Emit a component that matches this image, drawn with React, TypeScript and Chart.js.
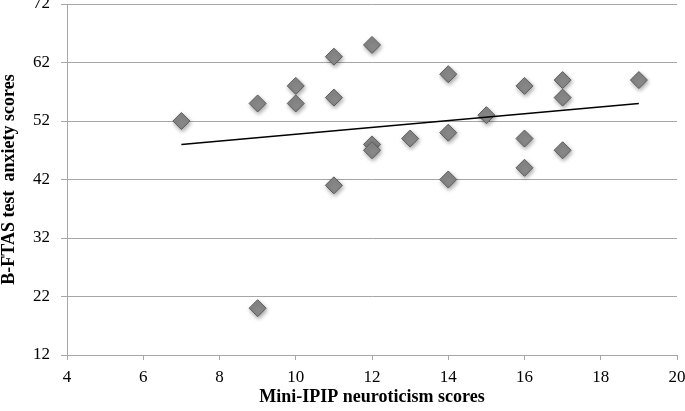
import React, { useEffect, useRef } from "react";
import { Chart, registerables } from "chart.js";

Chart.register(...registerables);

const neuroticism = [7, 9, 9, 10, 10, 11, 11, 11, 12, 12, 12, 13, 14, 14, 14, 15, 16, 16, 16, 17, 17, 17, 19];
const anxiety = [52, 55, 20, 58, 55, 63, 56, 41, 65, 48, 47, 49, 60, 50, 42, 53, 58, 49, 44, 59, 56, 47, 59];

const xTitle = "Mini-IPIP neuroticism scores";
const yTitle = "B-FTAS test  anxiety scores";

function linearFit(xs: number[], ys: number[]) {
  const n = xs.length;
  const mx = xs.reduce((a, b) => a + b, 0) / n;
  const my = ys.reduce((a, b) => a + b, 0) / n;
  let sxy = 0, sxx = 0;
  for (let i = 0; i < n; i++) {
    sxy += (xs[i] - mx) * (ys[i] - my);
    sxx += (xs[i] - mx) * (xs[i] - mx);
  }
  const slope = sxy / sxx;
  return { slope, intercept: my - slope * mx };
}

const shadowPlugin = {
  id: "pointShadow",
  beforeDatasetDraw(chart: any, args: any) {
    if (args.index !== 1) return;
    const ctx = chart.ctx;
    ctx.save();
    ctx.shadowColor = "rgba(0,0,0,0.35)";
    ctx.shadowBlur = 4;
    ctx.shadowOffsetX = 1;
    ctx.shadowOffsetY = 2;
  },
  afterDatasetDraw(chart: any, args: any) {
    if (args.index !== 1) return;
    chart.ctx.restore();
  },
};

export default function App() {
  const ref = useRef<HTMLCanvasElement>(null);
  useEffect(() => {
    if (!ref.current) return;
    const fit = linearFit(neuroticism, anxiety);
    const xMin = Math.min(...neuroticism);
    const xMax = Math.max(...neuroticism);
    const trend = [
      { x: xMin, y: fit.intercept + fit.slope * xMin },
      { x: xMax, y: fit.intercept + fit.slope * xMax },
    ];
    const points = neuroticism.map((x, i) => ({ x, y: anxiety[i] }));
    const font = "'Liberation Serif', 'DejaVu Serif', serif";
    const chart = new Chart(ref.current, {
      type: "scatter",
      data: {
        datasets: [
          {
            type: "line",
            data: trend,
            borderColor: "#000000",
            borderWidth: 1.5,
            pointRadius: 0,
            fill: false,
            order: 0,
          } as any,
          {
            data: points,
            pointStyle: "rectRot",
            pointRadius: 8.5,
            backgroundColor: "#888888",
            borderColor: "#5c5c5c",
            borderWidth: 1,
            order: 1,
          },
        ],
      },
      plugins: [shadowPlugin],
      options: {
        animation: false,
        responsive: true,
        maintainAspectRatio: false,
        layout: { autoPadding: false, padding: { top: 4, right: 8, left: 0, bottom: 0 } },
        plugins: { legend: { display: false }, tooltip: { enabled: false } },
        scales: {
          x: {
            type: "linear",
            min: 4,
            max: 20,
            ticks: {
              stepSize: 2,
              color: "#000",
              padding: 7,
              font: { family: font, size: 17 },
              maxRotation: 0,
            },
            grid: {
              drawOnChartArea: false,
              drawTicks: true,
              tickLength: 5,
              color: "#a6a6a6",
            },
            border: { color: "#a6a6a6", width: 1 },
            title: {
              display: true,
              text: xTitle,
              color: "#000",
              font: { family: font, size: 18, weight: "bold", lineHeight: 1.0 },
              padding: { top: 0, bottom: 5 },
            },
            afterFit(scale: any) {
              scale.height = 56;
              scale.paddingLeft = 0;
              scale.paddingRight = 0;
            },
          },
          y: {
            type: "linear",
            min: 12,
            max: 72,
            ticks: {
              stepSize: 10,
              color: "#000",
              padding: 11,
              font: { family: font, size: 17, lineHeight: 0.4 },
            },
            grid: {
              color: "#a6a6a6",
              drawTicks: true,
              tickLength: 6,
            },
            border: { color: "#a6a6a6", width: 1 },
            title: {
              display: true,
              text: yTitle,
              color: "#000",
              font: { family: font, size: 18, weight: "bold", lineHeight: 1.0 },
              padding: { top: 0, bottom: 0 },
            },
            afterFit(scale: any) {
              scale.width = 67;
              scale.paddingTop = 0;
              scale.paddingBottom = 0;
            },
          },
        },
      },
    } as any);
    return () => chart.destroy();
  }, []);
  return (
    <div style={{ position: "absolute", left: 0, top: 0, width: 685, height: 411, background: "#fff" }}>
      <canvas ref={ref} />
    </div>
  );
}
